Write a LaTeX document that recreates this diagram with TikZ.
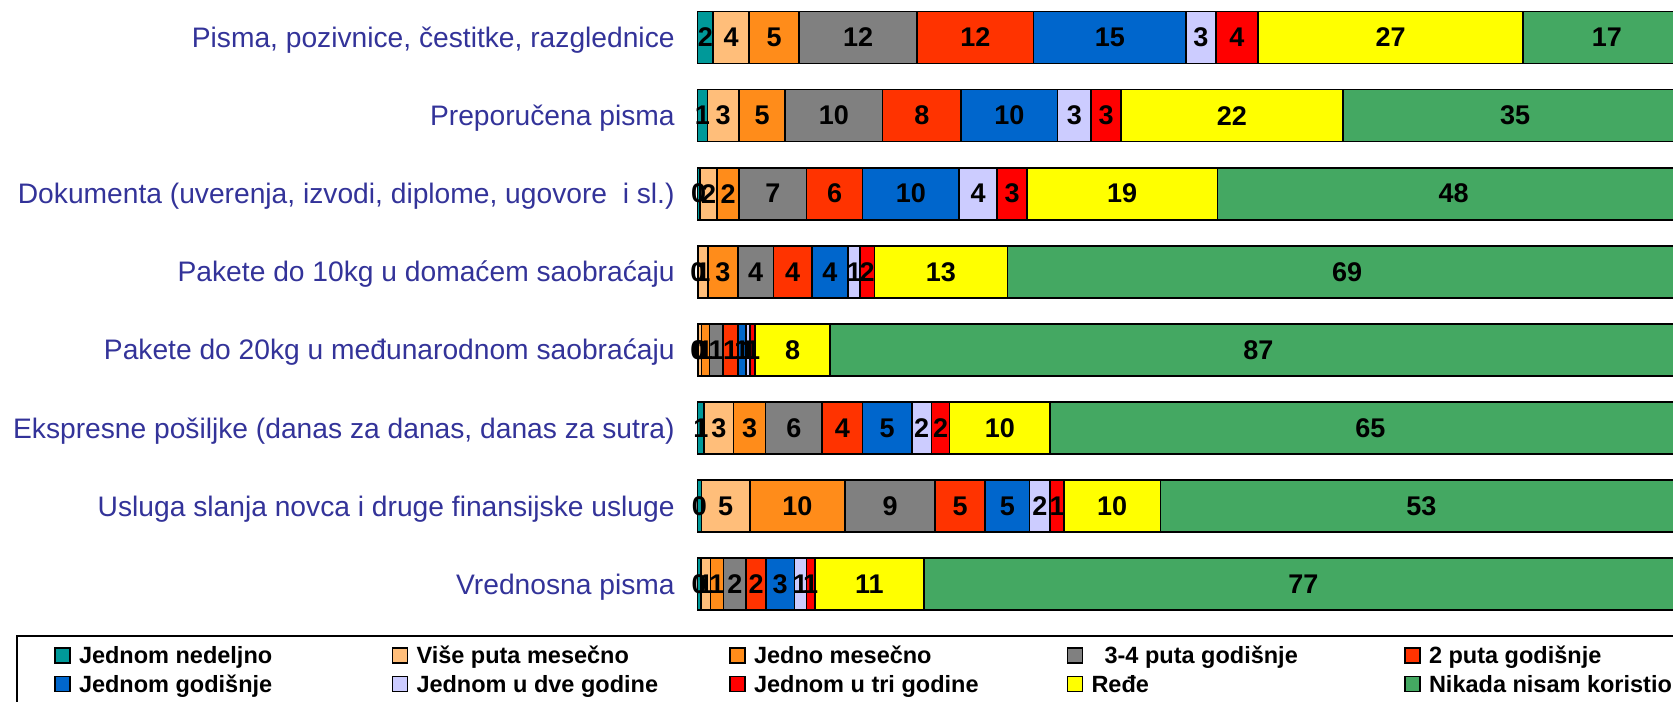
\documentclass[tikz,border=0pt]{standalone}
\usepackage{fontspec}
\setmainfont{Liberation Sans}
\usetikzlibrary{positioning}
\definecolor{freq1}{RGB}{0,153,153}
\definecolor{freq2}{RGB}{255,190,122}
\definecolor{freq3}{RGB}{255,140,26}
\definecolor{freq4}{RGB}{128,128,128}
\definecolor{freq5}{RGB}{255,51,0}
\definecolor{freq6}{RGB}{0,102,204}
\definecolor{freq7}{RGB}{204,204,255}
\definecolor{freq8}{RGB}{255,0,0}
\definecolor{freq9}{RGB}{255,255,0}
\definecolor{freq10}{RGB}{68,168,98}
\definecolor{catblue}{RGB}{51,51,153}
\tikzstyle{seg} = [draw=black, line width=0.8pt]
\tikzstyle{val} = [font=\bfseries\fontsize{13.5}{15}\selectfont, inner sep=0pt]
\tikzstyle{cat} = [anchor=east, text=catblue, inner sep=0pt,
    text height=10pt, text depth=0pt, font=\fontsize{14.1}{16}\selectfont]
\tikzstyle{keybox} = [draw=black, line width=0.6pt, minimum size=7.5pt, inner sep=0pt]
\tikzstyle{keytext} = [inner sep=0pt, text height=8.4pt, text depth=0pt,
    font=\bfseries\fontsize{11.75}{13}\selectfont]

\begin{document}
\begin{tikzpicture}[x=0.5pt,y=-0.5pt]
    \useasboundingbox (0,0) rectangle (1673,701);
    \clip (0,0) rectangle (1673,701);
    % Place bars
    \foreach \r/\name/\data in {
        1/{Pisma, pozivnice, čestitke, razglednice}/{1.58/2,3.65/4,5.08/5,12/12,11.8/12,15.5/15,3/3,4.3/4,26.9/27,17/17},
        2/{Preporučena pisma}/{1/1,3.2/3,4.7/5,9.9/10,7.95/8,9.8/10,3.4/3,3.05/3,22.5/22,35/35},
        3/{Dokumenta (uverenja, izvodi, diplome, ugovore~ i sl.)}/{0.24/0,1.76/2,2.23/2,6.83/7,5.7/6,9.8/10,3.86/4,3.05/3,19.3/19,48/48},
        4/{Pakete do 10kg u domaćem saobraćaju}/{0.05/0,1/1,3.05/3,3.6/4,3.9/4,3.7/4,1.2/1,1.45/2,13.5/13,69/69},
        5/{Pakete do 20kg u međunarodnom saobraćaju}/{0.1/0,0.3/0,0.8/1,1.4/1,1.5/1,0.8/1,0.45/1,0.5/1,7.6/8,87/87},
        6/{Ekspresne pošiljke (danas za danas, danas za sutra)}/{0.66/1,3/3,3.25/3,5.75/6,4.1/4,5/5,2/2,1.84/2,10.2/10,65/65},
        7/{Usluga slanja novca i druge finansijske usluge}/{0.4/0,4.9/5,9.7/10,9.1/9,5.1/5,4.5/5,2.1/2,1.4/1,9.8/10,53/53},
        8/{Vrednosna pisma}/{0.35/0,0.95/1,1.35/1,2.3/2,2/2,2.9/3,1.2/1,0.85/1,11.1/11,77/77}}{
        \pgfmathsetmacro{\yc}{37.5+78.1*(\r-1)}
        \node[cat] (cat\r) at (675,\yc) {\name};
        \foreach \w/\v [count=\k, evaluate=\w as \xe using \xs+9.85*\w,
                remember=\xe as \xs (initially 697.5)] in \data {
            \draw[seg, fill=freq\k] (\xs,\yc-26) rectangle (\xe,\yc+26);
        }
        \foreach \w/\v [count=\k, evaluate=\w as \xe using \xs+9.85*\w,
                remember=\xe as \xs (initially 697.5)] in \data {
            \node[val] (val\r-\k) at ({(\xs+\xe)/2},\yc) {\v};
        }
    }
    % Legend
    \draw[line width=0.8pt] (17,636) rectangle (1720,740);
    \foreach \k/\txt in {1/Jednom nedeljno, 2/Više puta mesečno, 3/Jedno mesečno,
            4/{\ \ 3-4 puta godišnje}, 5/2 puta godišnje, 6/Jednom godišnje,
            7/Jednom u dve godine, 8/Jednom u tri godine, 9/Ređe,
            10/Nikada nisam koristio}{
        \pgfmathsetmacro{\kx}{62.5+337.5*mod(\k-1,5)}
        \pgfmathsetmacro{\ky}{\k>5 ? 684 : 655.5}
        \node[keybox, fill=freq\k] (key\k) at (\kx,\ky) {};
        \node[keytext, right=4pt of key\k] (keytxt\k) {\txt};
    }
\end{tikzpicture}
\end{document}
